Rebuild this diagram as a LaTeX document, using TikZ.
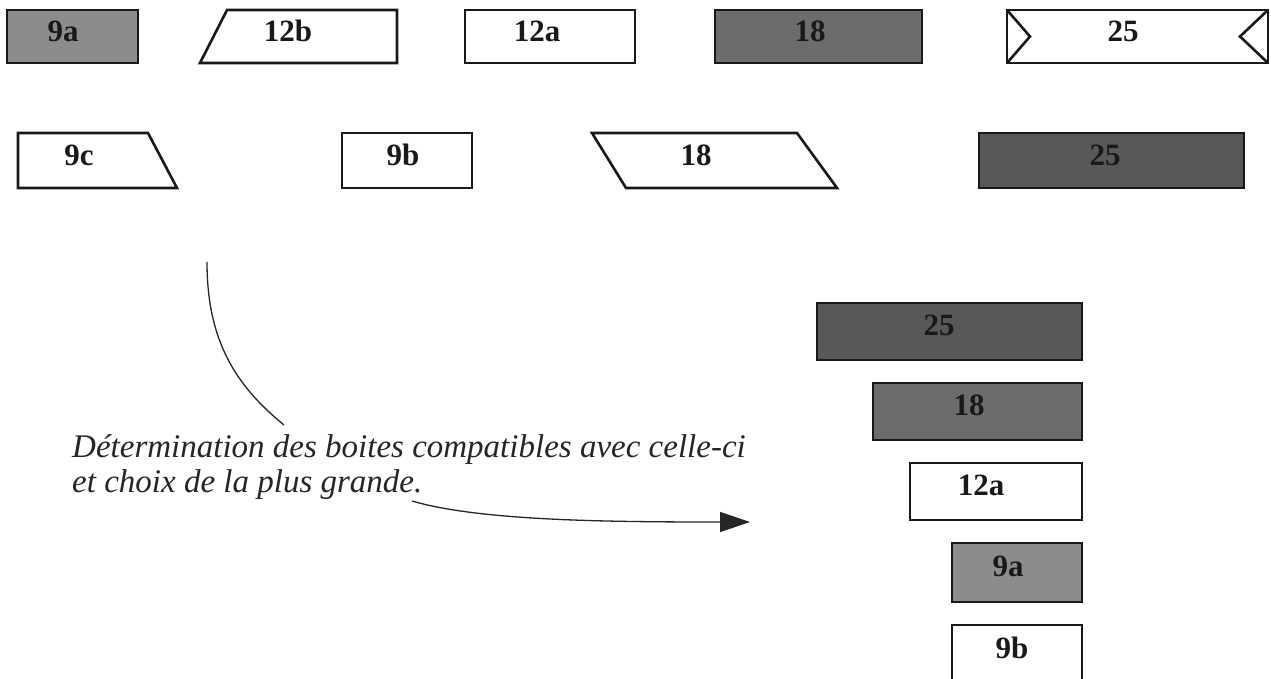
\documentclass[tikz,border=0pt]{standalone}
\usepackage{fontspec}
\setmainfont{Liberation Serif}
\usetikzlibrary{arrows.meta}
\definecolor{gA}{RGB}{140,140,140}
\definecolor{gB}{RGB}{108,108,108}
\definecolor{gC}{RGB}{88,88,88}
\begin{document}
\begin{tikzpicture}[x=1pt,y=-1pt,
  box/.style={draw=black!90, line width=2.6pt, inner sep=0pt},
  rbox/.style={box, rectangle},
  lbl/.style={font=\fontsize{31}{31}\selectfont\bfseries, inner sep=0pt, text=black!90},
  note/.style={font=\fontsize{33}{35}\selectfont\itshape, inner sep=0pt, align=left, text=black!85},
  link/.style={draw=black!85, line width=1.3pt}]
\useasboundingbox (0,0) rectangle (1271,679);
\fill[white] (0,0) rectangle (1271,679);

% ---- row 1
\node[rbox, fill=gA, minimum width=131pt, minimum height=53pt] (r1a) at (72.5,36.5) {};
\node[lbl] (r1aL) at (63,31) {9a};

\draw[box] (227,10) -- (397,10) -- (397,63) -- (200,63) -- cycle;
\node[lbl] (r1bL) at (288,31) {12b};

\node[rbox, minimum width=170pt, minimum height=53pt] (r1c) at (550,36.5) {};
\node[lbl] (r1cL) at (537,31) {12a};

\node[rbox, fill=gB, minimum width=207pt, minimum height=53pt] (r1d) at (818.5,36.5) {};
\node[lbl] (r1dL) at (810,31) {18};

\node[rbox, minimum width=261pt, minimum height=53pt] (r1e) at (1137.5,36.5) {};
\draw[box] (1007,10) -- (1030,36.5) -- (1007,63);
\draw[box] (1268,10) -- (1240,36.5) -- (1268,63);
\node[lbl] (r1eL) at (1123,31) {25};

% ---- row 2
\draw[box] (18,133) -- (148,133) -- (177,188) -- (18,188) -- cycle;
\node[lbl] (r2aL) at (79,155) {9c};

\node[rbox, minimum width=130pt, minimum height=55pt] (r2b) at (407,160.5) {};
\node[lbl] (r2bL) at (403,155) {9b};

\draw[box] (592,133) -- (797,133) -- (837,188) -- (626,188) -- cycle;
\node[lbl] (r2cL) at (696,155) {18};

\node[rbox, fill=gC, minimum width=265pt, minimum height=55pt] (r2d) at (1111.5,160.5) {};
\node[lbl] (r2dL) at (1105,155) {25};

% ---- stack
\node[rbox, fill=gC, minimum width=265pt, minimum height=57pt] (s1) at (949.5,331.5) {};
\node[lbl] (s1L) at (939,325) {25};
\node[rbox, fill=gB, minimum width=209pt, minimum height=57pt] (s2) at (977.5,411.5) {};
\node[lbl] (s2L) at (969,405) {18};
\node[rbox, minimum width=172pt, minimum height=57pt] (s3) at (996,491.5) {};
\node[lbl] (s3L) at (981,485) {12a};
\node[rbox, fill=gA, minimum width=130pt, minimum height=59pt] (s4) at (1017,572.5) {};
\node[lbl] (s4L) at (1008,566) {9a};
\node[rbox, minimum width=130pt, minimum height=70pt] (s5) at (1017,660) {};
\node[lbl] (s5L) at (1012,648) {9b};

% ---- note and connectors
\node[note, anchor=base west] (txt) at (72,492)
  {Détermination des boites compatibles avec celle-ci\\et choix de la plus grande.};
\coordinate (c1) at (207,262);
\coordinate (c2) at (284,425);
\draw[link] (c1) .. controls (207,340) and (235,385) .. (c2);
\coordinate (a1) at (412,501);
\coordinate (a2) at (750,522);
\draw[link, -{Triangle[length=30pt,width=20pt]}] (a1) .. controls (480,521) and (610,522) .. (a2);
\end{tikzpicture}
\end{document}
